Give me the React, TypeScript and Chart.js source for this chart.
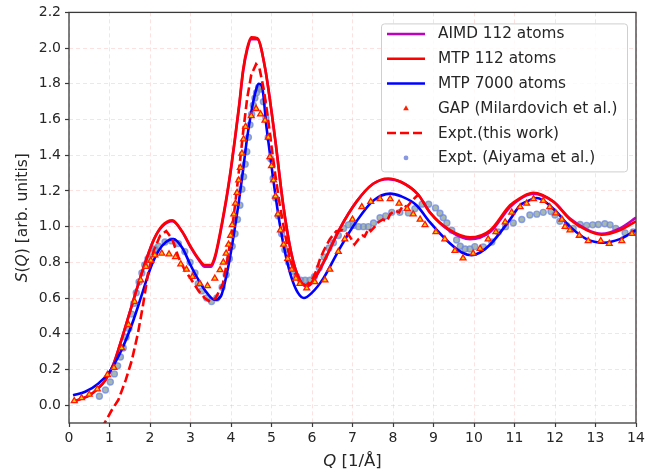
import React, { useEffect, useRef } from "react";
import { Chart, registerables } from "chart.js";

Chart.register(...registerables);

// ---------------- data ----------------
const xTicks = [0, 1, 2, 3, 4, 5, 6, 7, 8, 9, 10, 11, 12, 13, 14];
const yTicks = [0, 0.2, 0.4, 0.6, 0.8, 1.0, 1.2, 1.4, 1.6, 1.8, 2.0, 2.2];

const legendLabels = [
  "AIMD 112 atoms",
  "MTP 112 atoms",
  "MTP 7000 atoms",
  "GAP (Milardovich et al.)",
  "Expt.(this work)",
  "Expt. (Aiyama et al.)",
];

const mtp112Q = [0.1, 0.3, 0.5, 0.7, 0.9, 1.1, 1.3, 1.5, 1.7, 1.9, 2.1, 2.3, 2.55, 2.8, 3.0, 3.2, 3.35, 3.5, 3.6, 3.7, 3.8, 3.9, 4.0, 4.1, 4.2, 4.3, 4.4, 4.5, 4.65, 4.84, 5.09, 5.29, 5.5, 5.7, 5.87, 6.0, 6.28, 6.69, 7.1, 7.51, 7.88, 8.2, 8.62, 8.91, 9.41, 9.9, 10.4, 10.89, 11.14, 11.3, 11.46, 11.96, 12.37, 12.78, 13.15, 13.6, 14.0];
const mtp112S = [0.02, 0.035, 0.055, 0.09, 0.14, 0.23, 0.37, 0.52, 0.67, 0.81, 0.93, 1.005, 1.035, 0.97, 0.89, 0.82, 0.785, 0.785, 0.83, 0.93, 1.05, 1.18, 1.33, 1.5, 1.68, 1.88, 2.0, 2.06, 2.055, 1.89, 1.49, 1.12, 0.84, 0.7, 0.67, 0.69, 0.8, 0.99, 1.14, 1.24, 1.27, 1.25, 1.18, 1.08, 0.98, 0.94, 0.98, 1.12, 1.16, 1.18, 1.19, 1.14, 1.04, 0.98, 0.955, 0.98, 1.03];

const aimdS = [0.02, 0.035, 0.055, 0.09, 0.14, 0.23, 0.37, 0.52, 0.67, 0.81, 0.93, 1.0, 1.03, 0.97, 0.885, 0.815, 0.775, 0.775, 0.82, 0.92, 1.04, 1.17, 1.32, 1.49, 1.67, 1.87, 1.99, 2.05, 2.05, 1.89, 1.49, 1.12, 0.84, 0.7, 0.665, 0.685, 0.795, 0.99, 1.14, 1.24, 1.265, 1.25, 1.18, 1.08, 0.975, 0.93, 0.97, 1.11, 1.155, 1.175, 1.185, 1.14, 1.045, 0.985, 0.96, 0.99, 1.05];

const mtp7000Q = [0.1, 0.4, 0.72, 1.01, 1.3, 1.55, 1.8, 2.0, 2.2, 2.4, 2.58, 2.8, 3.0, 3.2, 3.4, 3.6, 3.75, 3.9, 4.0, 4.1, 4.2, 4.3, 4.4, 4.5, 4.6, 4.68, 4.76, 4.88, 5.04, 5.2, 5.35, 5.5, 5.65, 5.8, 6.0, 6.28, 6.69, 7.1, 7.51, 7.93, 8.2, 8.58, 8.91, 9.41, 9.7, 9.94, 10.15, 10.4, 10.89, 11.14, 11.3, 11.55, 11.96, 12.37, 12.78, 13.19, 13.6, 14.0];
const mtp7000S = [0.055, 0.075, 0.12, 0.19, 0.31, 0.45, 0.62, 0.76, 0.86, 0.915, 0.93, 0.88, 0.785, 0.7, 0.63, 0.59, 0.61, 0.74, 0.86, 1.0, 1.15, 1.32, 1.5, 1.64, 1.75, 1.8, 1.79, 1.55, 1.27, 1.02, 0.84, 0.71, 0.63, 0.6, 0.63, 0.71, 0.88, 1.03, 1.145, 1.185, 1.17, 1.12, 1.025, 0.905, 0.855, 0.84, 0.855, 0.9, 1.04, 1.12, 1.14, 1.16, 1.1, 1.0, 0.93, 0.91, 0.93, 0.98];

const gapQ = [0.13, 0.31, 0.5, 0.7, 0.95, 1.11, 1.3, 1.47, 1.62, 1.77, 1.9, 2.02, 2.12, 2.29, 2.47, 2.63, 2.76, 2.9, 3.05, 3.23, 3.42, 3.6, 3.73, 3.81, 3.88, 3.94, 3.99, 4.03, 4.07, 4.11, 4.15, 4.19, 4.23, 4.27, 4.31, 4.36, 4.5, 4.62, 4.73, 4.84, 4.92, 4.96, 5.0, 5.05, 5.1, 5.16, 5.22, 5.3, 5.4, 5.5, 5.6, 5.7, 5.87, 6.07, 6.32, 6.44, 6.65, 6.81, 7.0, 7.23, 7.45, 7.68, 7.93, 8.15, 8.35, 8.5, 8.67, 8.79, 9.06, 9.28, 9.53, 9.73, 9.98, 10.15, 10.35, 10.54, 10.77, 10.93, 11.14, 11.3, 11.47, 11.71, 11.87, 12.02, 12.17, 12.25, 12.37, 12.6, 12.82, 13.13, 13.34, 13.65, 13.9];
const gapS = [0.024, 0.04, 0.06, 0.09, 0.17, 0.21, 0.32, 0.45, 0.58, 0.7, 0.776, 0.81, 0.84, 0.85, 0.846, 0.83, 0.79, 0.76, 0.72, 0.68, 0.668, 0.71, 0.757, 0.8, 0.85, 0.9, 0.95, 1.01, 1.07, 1.13, 1.19, 1.26, 1.33, 1.41, 1.49, 1.56, 1.62, 1.66, 1.63, 1.595, 1.5, 1.39, 1.34, 1.26, 1.17, 1.07, 0.98, 0.9, 0.82, 0.76, 0.71, 0.68, 0.655, 0.69, 0.7, 0.76, 0.86, 0.93, 1.04, 1.11, 1.14, 1.155, 1.155, 1.13, 1.1, 1.07, 1.04, 1.01, 0.97, 0.93, 0.865, 0.823, 0.85, 0.877, 0.93, 0.97, 1.025, 1.08, 1.11, 1.13, 1.155, 1.145, 1.11, 1.075, 1.04, 1.0, 0.98, 0.95, 0.92, 0.92, 0.905, 0.92, 0.96];

const exptQ = [0.8, 0.93, 1.05, 1.22, 1.4, 1.55, 1.7, 1.82, 1.96, 2.1, 2.25, 2.4, 2.55, 2.7, 2.85, 3.0, 3.2, 3.35, 3.48, 3.62, 3.8, 3.9, 4.0, 4.1, 4.2, 4.3, 4.4, 4.5, 4.62, 4.7, 4.8, 4.9, 5.0, 5.1, 5.2, 5.3, 5.45, 5.6, 5.75, 5.85, 6.0, 6.1, 6.2, 6.3, 6.44, 6.6, 6.75, 6.9, 7.0, 7.05, 7.15, 7.25, 7.3, 7.4, 7.45, 7.55, 7.6, 7.75, 7.85, 7.93, 8.05, 8.15, 8.25, 8.35, 8.45, 8.58, 8.65];
const exptS = [-0.13, -0.08, -0.03, 0.03, 0.14, 0.25, 0.4, 0.55, 0.75, 0.87, 0.95, 0.975, 0.93, 0.83, 0.76, 0.71, 0.64, 0.6, 0.58, 0.6, 0.68, 0.8, 0.94, 1.12, 1.32, 1.53, 1.72, 1.85, 1.91, 1.89, 1.78, 1.63, 1.45, 1.28, 1.13, 1.0, 0.82, 0.73, 0.68, 0.67, 0.7, 0.75, 0.82, 0.87, 0.93, 0.975, 0.98, 0.955, 0.92, 0.9, 0.93, 0.95, 0.945, 0.99, 0.975, 1.0, 1.02, 1.04, 1.03, 1.07, 1.09, 1.08, 1.12, 1.11, 1.14, 1.17, 1.18];

const aiyamaQ = [0.75, 0.9, 1.02, 1.12, 1.2, 1.27, 1.34, 1.41, 1.48, 1.55, 1.6, 1.66, 1.73, 1.8, 1.87, 1.95, 2.04, 2.12, 2.21, 2.37, 2.53, 2.7, 2.86, 2.99, 3.11, 3.19, 3.28, 3.4, 3.52, 3.65, 3.78, 3.88, 3.96, 4.03, 4.1, 4.16, 4.22, 4.27, 4.31, 4.35, 4.39, 4.43, 4.47, 4.51, 4.55, 4.59, 4.63, 4.68, 4.73, 4.8, 4.86, 4.92, 4.98, 5.04, 5.1, 5.17, 5.25, 5.33, 5.42, 5.52, 5.62, 5.72, 5.83, 5.95, 6.06, 6.18, 6.3, 6.42, 6.53, 6.65, 6.78, 6.9, 7.02, 7.15, 7.27, 7.39, 7.52, 7.68, 7.82, 7.97, 8.17, 8.38, 8.54, 8.72, 8.88, 9.05, 9.16, 9.24, 9.33, 9.45, 9.57, 9.66, 9.78, 9.9, 10.02, 10.23, 10.44, 10.6, 10.78, 10.97, 11.18, 11.38, 11.55, 11.71, 11.9, 12.0, 12.12, 12.29, 12.45, 12.62, 12.78, 12.93, 13.07, 13.23, 13.36, 13.5, 13.73, 13.93];
const aiyamaS = [0.05, 0.085, 0.13, 0.175, 0.22, 0.27, 0.32, 0.38, 0.43, 0.51, 0.57, 0.63, 0.69, 0.74, 0.785, 0.82, 0.85, 0.875, 0.89, 0.914, 0.92, 0.905, 0.86, 0.8, 0.74, 0.68, 0.64, 0.6, 0.58, 0.6, 0.66, 0.73, 0.82, 0.89, 0.96, 1.04, 1.12, 1.21, 1.28, 1.35, 1.42, 1.5, 1.57, 1.63, 1.68, 1.72, 1.75, 1.78, 1.77, 1.7, 1.61, 1.5, 1.38, 1.27, 1.16, 1.06, 0.96, 0.87, 0.8, 0.75, 0.72, 0.7, 0.7, 0.7, 0.72, 0.77, 0.83, 0.88, 0.91, 0.95, 0.99, 1.01, 1.007, 1.0, 1.0, 1.0, 1.02, 1.05, 1.06, 1.08, 1.08, 1.077, 1.1, 1.126, 1.125, 1.105, 1.075, 1.05, 1.02, 0.98, 0.925, 0.89, 0.875, 0.875, 0.888, 0.886, 0.914, 0.97, 1.0, 1.02, 1.04, 1.065, 1.07, 1.08, 1.085, 1.065, 1.03, 1.005, 0.99, 1.012, 1.007, 1.01, 1.012, 1.016, 1.01, 0.99, 0.965, 0.97];

// ---------------- helpers ----------------
const pts = (q: number[], s: number[]) => q.map((x, i) => ({ x, y: s[i] }));

const FONT = "'DejaVu Sans', sans-serif";
const TEXT = "#262626";

function drawMixed(ctx: CanvasRenderingContext2D, parts: [string, boolean][], cx: number, cy: number, size: number) {
  const fonts = parts.map(([, it]) => `${it ? "oblique " : ""}${size}px ${FONT}`);
  let total = 0;
  const widths = parts.map(([t], i) => {
    ctx.font = fonts[i];
    const w = ctx.measureText(t).width;
    total += w;
    return w;
  });
  let x = cx - total / 2;
  ctx.textAlign = "left";
  ctx.textBaseline = "middle";
  parts.forEach(([t], i) => {
    ctx.font = fonts[i];
    ctx.fillText(t, x, cy);
    x += widths[i];
  });
}

const decorPlugin = {
  id: "decor",
  afterDraw(chart: any) {
    const ctx: CanvasRenderingContext2D = chart.ctx;
    const a = chart.chartArea;
    ctx.save();

    // legend
    const bx = a.right - 254.5, by = a.top + 11.5, bw = 246, bh = 148;
    ctx.beginPath();
    (ctx as any).roundRect(bx, by, bw, bh, 3);
    ctx.fillStyle = "rgba(255,255,255,0.85)";
    ctx.fill();
    ctx.strokeStyle = "#cfcfcf";
    ctx.lineWidth = 1;
    ctx.stroke();

    chart.data.datasets.forEach((ds: any, i: number) => {
      const y = by + 10 + i * 24.8;
      const x0 = bx + 5.5, x1 = bx + 43.5, xm = (x0 + x1) / 2;
      ctx.save();
      if (ds.kind === "line" || ds.kind === "dash") {
        ctx.beginPath();
        ctx.setLineDash(ds.kind === "dash" ? [9, 4] : []);
        ctx.strokeStyle = ds.borderColor;
        ctx.lineWidth = 2.5;
        ctx.moveTo(x0, y);
        ctx.lineTo(x1, y);
        ctx.stroke();
      } else if (ds.kind === "tri") {
        ctx.beginPath();
        ctx.moveTo(xm, y - 3);
        ctx.lineTo(xm + 2.8, y + 2);
        ctx.lineTo(xm - 2.8, y + 2);
        ctx.closePath();
        ctx.fillStyle = "#ff2000";
        ctx.fill();
      } else {
        ctx.beginPath();
        ctx.arc(xm, y, 2.4, 0, Math.PI * 2);
        ctx.fillStyle = "rgba(115,135,220,0.85)";
        ctx.fill();
      }
      ctx.restore();
      ctx.fillStyle = TEXT;
      ctx.font = `15.3px ${FONT}`;
      ctx.textAlign = "left";
      ctx.textBaseline = "middle";
      ctx.fillText(ds.label, bx + 56.5, y + 0.5);
    });

    // frame
    ctx.strokeStyle = "#3a3a3a";
    ctx.lineWidth = 1.3;
    ctx.setLineDash([]);
    ctx.strokeRect(a.left, a.top, a.right - a.left, a.bottom - a.top);

    // axis titles
    ctx.fillStyle = TEXT;
    drawMixed(ctx, [["Q", true], [" [1/Å]", false]], (a.left + a.right) / 2, 462, 16.5);
    ctx.save();
    ctx.translate(23, (a.top + a.bottom) / 2);
    ctx.rotate(-Math.PI / 2);
    drawMixed(ctx, [["S", true], ["(", false], ["Q", true], [") [arb. unitis]", false]], 0, 0, 15.5);
    ctx.restore();

    ctx.restore();
  },
};

export default function App() {
  const ref = useRef<HTMLCanvasElement | null>(null);

  useEffect(() => {
    if (!ref.current) return;
    const lineBase = { showLine: true, pointRadius: 0, borderWidth: 2.6, fill: false, cubicInterpolationMode: "monotone" as const };
    const chart = new Chart(ref.current, {
      type: "scatter",
      data: {
        datasets: [
          { ...lineBase, label: legendLabels[0], kind: "line", data: pts(mtp112Q, aimdS), borderColor: "#bf00bf", backgroundColor: "#bf00bf", order: 5 } as any,
          { ...lineBase, label: legendLabels[1], kind: "line", data: pts(mtp112Q, mtp112S), borderColor: "#ff0000", backgroundColor: "#ff0000", order: 4 } as any,
          { ...lineBase, label: legendLabels[2], kind: "line", data: pts(mtp7000Q, mtp7000S), borderColor: "#0000ff", backgroundColor: "#0000ff", order: 3 } as any,
          { label: legendLabels[3], kind: "tri", data: pts(gapQ, gapS), showLine: false, pointStyle: "triangle", pointRadius: 3.4, borderWidth: 1.3, borderColor: "#ff1a00", backgroundColor: "#ffcf00", order: 1 } as any,
          { label: legendLabels[4], kind: "dash", data: pts(exptQ, exptS), showLine: true, pointRadius: 0, borderWidth: 2.6, borderDash: [9, 4], borderColor: "#ff0000", backgroundColor: "#ff0000", fill: false, order: 2 } as any,
          { label: legendLabels[5], kind: "dot", data: pts(aiyamaQ, aiyamaS), showLine: false, pointStyle: "circle", pointRadius: 3, borderWidth: 1.4, borderColor: "rgba(110,135,230,0.75)", backgroundColor: "rgba(130,155,140,0.7)", order: 6 } as any,
        ],
      },
      options: {
        animation: false,
        responsive: true,
        maintainAspectRatio: false,
        layout: { padding: { left: 0, top: 8, right: 25, bottom: 0 } },
        plugins: { legend: { display: false }, tooltip: { enabled: false } },
        scales: {
          x: {
            type: "linear",
            min: 0,
            max: 14,
            afterBuildTicks: (axis: any) => { axis.ticks = xTicks.map((v) => ({ value: v })); },
            afterFit: (axis: any) => { axis.height = 53; },
            ticks: { color: TEXT, font: { family: FONT, size: 14 }, padding: 3, maxRotation: 0, autoSkip: false, callback: (v: any) => String(v) },
            grid: { color: "rgba(245,170,170,0.35)", lineWidth: 1, tickLength: 4, tickColor: "#3a3a3a", tickWidth: 1.2, tickBorderDash: [] },
            border: { display: false, dash: [4, 3] },
          },
          y: {
            type: "linear",
            min: -0.1,
            max: 2.2,
            afterBuildTicks: (axis: any) => { axis.ticks = yTicks.map((v) => ({ value: v })); },
            afterFit: (axis: any) => { axis.width = 69; },
            ticks: { color: TEXT, font: { family: FONT, size: 14 }, padding: 4, autoSkip: false, callback: (v: any) => Number(v).toFixed(1) },
            grid: { color: "rgba(245,170,170,0.35)", lineWidth: 1, tickLength: 4, tickColor: "#3a3a3a", tickWidth: 1.2, tickBorderDash: [] },
            border: { display: false, dash: [4, 3] },
          },
        },
      },
      plugins: [decorPlugin],
    });
    return () => chart.destroy();
  }, []);

  return (
    <div style={{ position: "fixed", left: 0, top: 0, width: 661, height: 476, background: "#fff" }}>
      <canvas ref={ref} />
    </div>
  );
}
